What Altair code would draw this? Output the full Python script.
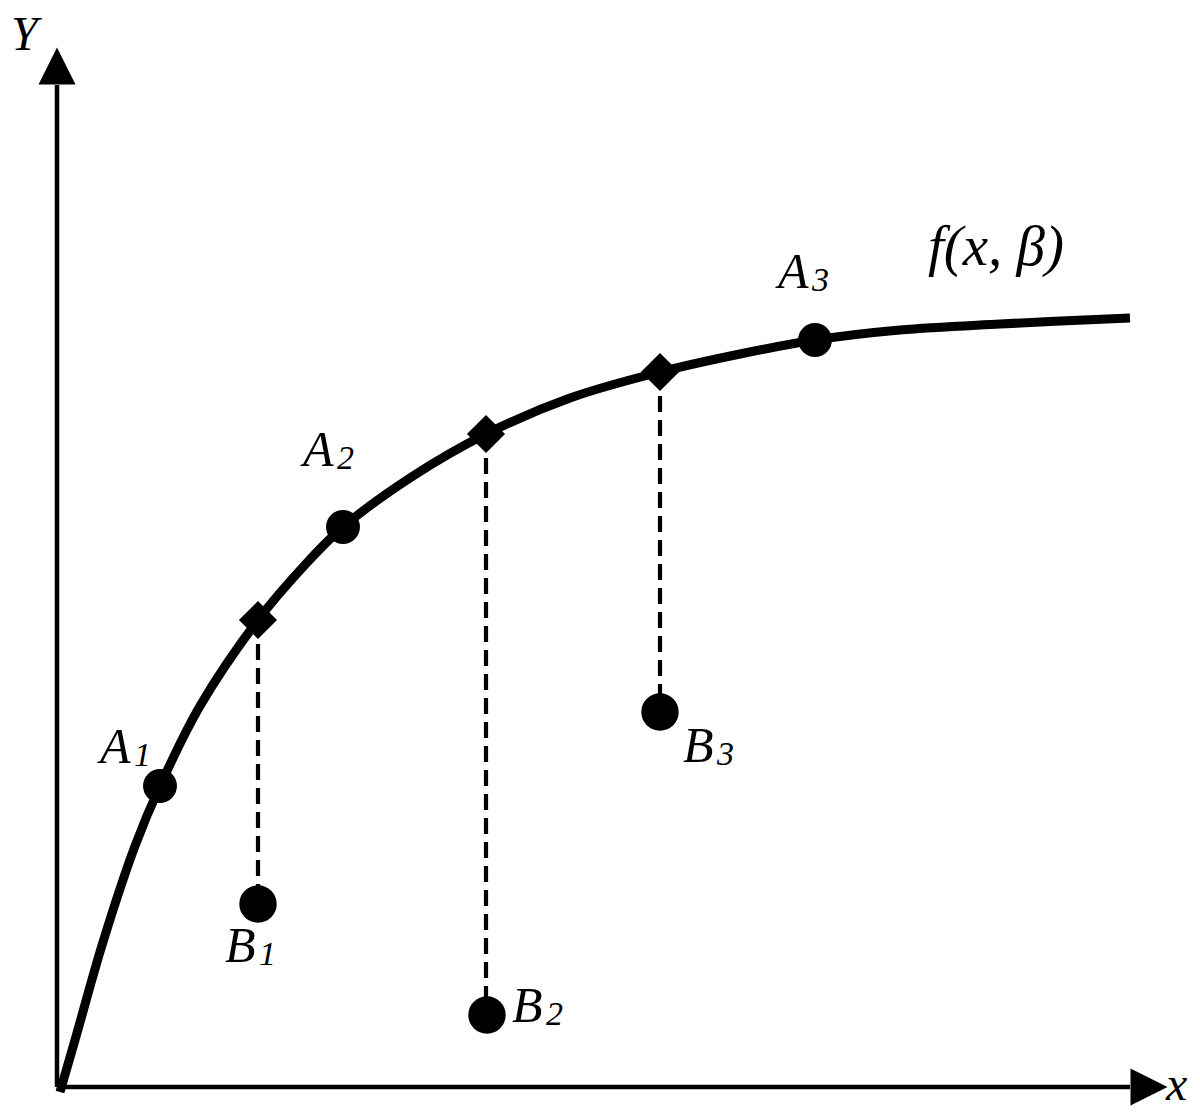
import altair as alt
import pandas as pd

# Curve f(x, beta) (diagram units)
curve_x = [0.03, 0.18, 0.46, 0.78, 1.03, 1.43, 2.01, 2.46, 2.86, 3.56, 4.29, 5.13, 6.03, 6.83, 7.58, 8.43, 9.43, 10.73]
curve_y = [-0.05, 0.47, 1.45, 2.41, 3.01, 3.81, 4.67, 5.20, 5.60, 6.11, 6.53, 6.89, 7.15, 7.33, 7.47, 7.57, 7.63, 7.69]

# Points A (on curve), diamonds (curve value at B's x), B (observations)
a_x = [1.03, 2.86, 7.58]
a_y = [3.01, 5.60, 7.47]
d_x = [2.01, 4.29, 6.03]
d_y = [4.67, 6.53, 7.15]
b_x = [2.01, 4.30, 6.03]
b_y = [1.83, 0.72, 3.75]

# Labels
lab_main = ["A", "A", "A", "B", "B", "B"]
lab_sub = ["1", "2", "3", "1", "2", "3"]
lab_x = [0.43, 2.46, 7.21, 1.68, 4.55, 6.26]
lab_y = [3.24, 6.21, 7.99, 1.25, 0.65, 3.25]

other_text = ["f(x, β)", "Y", "x"]
other_x = [8.71, -0.46, 11.09]
other_y = [8.22, 10.37, -0.13]
other_size = [57, 48, 48]

# Axes
axis_x = [0.0, 0.0]
axis_y = [0.0, 0.0]
axis_x2 = [0.0, 10.73]
axis_y2 = [10.02, 0.0]
arrow_x = [0.0, 10.92]
arrow_y = [10.21, 0.0]
arrow_shape = ["M0,-1L1,1L-1,1Z", "M1,0L-1,-1L-1,1Z"]

W, H = 1184, 1103
xs = alt.Scale(domain=[-0.49, 11.35], nice=False, zero=False)
ys = alt.Scale(domain=[-0.24, 10.79], nice=False, zero=False)

curve_df = pd.DataFrame({"x": curve_x, "y": curve_y})
a_df = pd.DataFrame({"x": a_x, "y": a_y})
d_df = pd.DataFrame({"x": d_x, "y": d_y})
b_df = pd.DataFrame({"x": b_x, "y": b_y})
seg_df = pd.DataFrame({"x": d_x, "y": d_y, "y2": b_y})
lab_df = pd.DataFrame({"x": lab_x, "y": lab_y, "m": lab_main, "s": lab_sub})
oth_df = pd.DataFrame({"x": other_x, "y": other_y, "t": other_text, "fs": other_size})
ax_df = pd.DataFrame({"x": axis_x, "y": axis_y, "x2": axis_x2, "y2": axis_y2})
arr_df = pd.DataFrame({"x": arrow_x, "y": arrow_y, "shape": arrow_shape})

X = alt.X("x:Q", scale=xs, axis=None)
Y = alt.Y("y:Q", scale=ys, axis=None)

axes = alt.Chart(ax_df).mark_rule(color="black", strokeWidth=4.5).encode(
    x=X, y=Y, x2="x2:Q", y2="y2:Q")

arrows = alt.Chart(arr_df).mark_point(filled=True, color="black", opacity=1, size=1369, strokeWidth=0).encode(
    x=X, y=Y, shape=alt.Shape("shape:N", scale=None))

dashes = alt.Chart(seg_df).mark_rule(color="black", strokeWidth=4.2, strokeDash=[16, 8]).encode(
    x=X, y=Y, y2="y2:Q")

curve = alt.Chart(curve_df).mark_line(color="black", strokeWidth=9, interpolate="catmull-rom").encode(
    x=X, y=Y, order=alt.Order("x:Q"))

a_pts = alt.Chart(a_df).mark_point(shape="circle", filled=True, color="black", opacity=1, size=1150).encode(x=X, y=Y)
d_pts = alt.Chart(d_df).mark_point(shape="diamond", filled=True, color="black", opacity=1, size=1450).encode(x=X, y=Y)
b_pts = alt.Chart(b_df).mark_point(shape="circle", filled=True, color="black", opacity=1, size=1400).encode(x=X, y=Y)

tstyle = dict(align="left", baseline="alphabetic", font="Liberation Serif", fontStyle="italic", color="black")
main_txt = alt.Chart(lab_df).mark_text(fontSize=50, **tstyle).encode(x=X, y=Y, text="m:N")
sub_txt = alt.Chart(lab_df).mark_text(fontSize=34, dx=34, dy=3, **tstyle).encode(x=X, y=Y, text="s:N")
oth_txt = alt.Chart(oth_df).mark_text(**tstyle).encode(
    x=X, y=Y, text="t:N", size=alt.Size("fs:Q", scale=None, legend=None))

chart = alt.layer(axes, arrows, dashes, curve, a_pts, d_pts, b_pts, main_txt, sub_txt, oth_txt).properties(
    width=W, height=H, autosize=alt.AutoSizeParams(type="none"), padding=0, background="white"
).configure_view(stroke=None)

chart.save("out.html", embed_options={"renderer": "svg", "actions": False})
